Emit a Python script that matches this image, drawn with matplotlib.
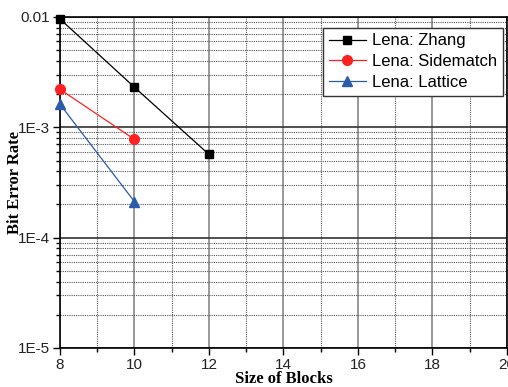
import matplotlib.pyplot as plt
from matplotlib.ticker import FixedLocator, NullFormatter

block_sizes = [8, 10, 12]
zhang = [0.0096, 0.00231, 0.000568]
sidematch = [0.00221, 0.000778]
lattice = [0.00162, 0.000212]

x_ticks = [8, 10, 12, 14, 16, 18, 20]
y_ticks = [1e-5, 1e-4, 1e-3, 1e-2]
y_tick_labels = ['1E-5', '1E-4', '1E-3', '0.01']

plt.rcParams['font.family'] = 'Liberation Sans'

fig = plt.figure(figsize=(5.08, 3.87), dpi=100)
ax = fig.add_axes([0.118, 0.1008, 0.88, 0.8553])

ax.plot(block_sizes, zhang, color='black', marker='s', markersize=6, lw=0.9, label='Lena: Zhang', clip_on=False, zorder=5)
ax.plot(block_sizes[:2], sidematch, color='#ff2020', marker='o', markersize=7, lw=0.9, label='Lena: Sidematch', clip_on=False, zorder=5)
ax.plot(block_sizes[:2], lattice, color='#2a5caa', marker='^', markersize=7, lw=0.9, label='Lena: Lattice', clip_on=False, zorder=5)

ax.set_yscale('log')
ax.set_xlim(8, 20)
ax.set_ylim(1e-5, 1e-2)
ax.set_xticks(x_ticks)
ax.set_xticklabels([str(t) for t in x_ticks])
ax.xaxis.set_minor_locator(FixedLocator([9, 11, 13, 15, 17, 19]))
ax.set_yticks(y_ticks)
ax.set_yticklabels(y_tick_labels)
ax.yaxis.set_minor_formatter(NullFormatter())

ax.tick_params(which='major', direction='out', length=5, width=1, labelsize=11, pad=2,
               colors='black', labelcolor='#222222')
ax.tick_params(which='minor', direction='out', length=3, width=1)

ax.grid(True, axis='x', which='major', color='#888888', lw=1.2, ls='-')
ax.grid(True, axis='y', which='major', color='#333333', lw=1.2, ls='-')
ax.grid(True, which='minor', color='#555555', lw=0.8, ls=(0, (1, 1)))
ax.set_axisbelow(True)

for s in ax.spines.values():
    s.set_linewidth(1.2)

ax.set_xlabel('Size of Blocks', fontfamily='Liberation Serif', fontweight='bold', fontsize=12, va='center')
ax.set_ylabel('Bit Error Rate', fontfamily='Liberation Serif', fontweight='bold', fontsize=12, va='center')
ax.xaxis.set_label_coords(0.5, -0.094)
ax.yaxis.set_label_coords(-0.1, 0.5)

leg = ax.legend(loc='upper right', bbox_to_anchor=(0.992, 0.968), fontsize=12, fancybox=False,
                edgecolor='#333333', framealpha=1, handlelength=2.2, borderpad=0.35,
                labelspacing=0.35, handletextpad=0.4, borderaxespad=0)
leg.get_frame().set_linewidth(1.0)

fig.savefig('out.png', dpi=100)
